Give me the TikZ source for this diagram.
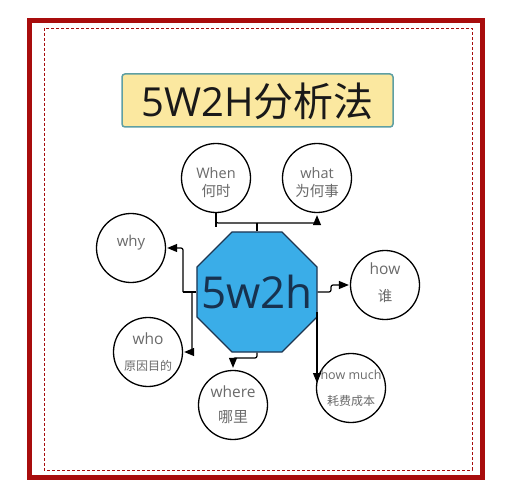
\documentclass[tikz,border=0pt]{standalone}
\usepackage{fontspec}
\setmainfont{Open Sans}
\newfontfamily\cjk{Noto Sans CJK SC}
\usetikzlibrary{shapes.geometric,arrows.meta,calc}
\definecolor{frame}{HTML}{A80D0D}
\definecolor{titlefill}{HTML}{FBE8A0}
\definecolor{titleline}{HTML}{5E9FA3}
\definecolor{octfill}{HTML}{3AADE8}
\definecolor{octline}{HTML}{1E3550}
\definecolor{octtext}{HTML}{17324F}
\definecolor{labelgray}{HTML}{6A6A6A}
\tikzset{
  bubble/.style={circle,draw=black,line width=1.3pt,fill=white,minimum size=69pt,inner sep=0pt},
  lab/.style={text=labelgray,inner sep=0pt,font=\fontsize{14.5}{14.5}\selectfont},
  conn/.style={draw=black,line width=1.2pt,rounded corners=2pt},
  arr/.style={conn,-{Triangle[length=10pt,width=8pt]}},
}
\begin{document}
\begin{tikzpicture}[x=1pt,y=-1pt]
\useasboundingbox (0,0) rectangle (512,500);
\fill[white] (0,0) rectangle (512,500);
% frames
\draw[frame,line width=5pt] (29.5,20.5) rectangle (482.5,477.5);
\draw[frame,line width=0.7pt,dash pattern=on 3pt off 2pt] (44,28) rectangle (472,470);
% title
\node[draw=titleline,fill=titlefill,line width=1.5pt,rounded corners=3pt,minimum width=271pt,minimum height=53pt,inner sep=0pt] (title) at (257.5,100.5) {};
\node[text=black!90,inner sep=0pt,font=\fontsize{40}{40}\selectfont] (titletext) at (257.5,101) {5W2H{\cjk 分析法}};
% center octagon
\node[regular polygon,regular polygon sides=8,draw=octline,fill=octfill,line width=1.2pt,minimum size=130pt,inner sep=0pt] (oct) at (257,292) {};
\node[text=octtext,inner sep=0pt,font=\fontsize{44}{44}\selectfont] (octtext) at (257,292) {5w2h};
% bubbles
\node[bubble] (wn) at (216,178) {};
\node[lab] at (216,173) {When};
\node[lab] at (216,191) {\cjk 何时};
\node[bubble] (wa) at (317,178) {};
\node[lab] at (317,173) {what};
\node[lab] at (317,191) {\cjk 为何事};
\node[bubble] (wy) at (131,248) {};
\node[lab,font=\fontsize{15}{15}\selectfont] at (131,243) {why};
\node[bubble] (wo) at (148,352) {};
\node[lab,font=\fontsize{15.5}{15.5}\selectfont] at (148,339) {who};
\node[lab,font=\fontsize{12}{12}\selectfont] at (148,366) {\cjk 原因目的};
\node[bubble] (wh) at (233,405) {};
\node[lab,font=\fontsize{15.5}{15.5}\selectfont] at (233,392) {where};
\node[lab,font=\fontsize{15}{15}\selectfont] at (233,417) {\cjk 哪里};
\node[bubble] (hm) at (351,388) {};
\node[lab,font=\fontsize{12.5}{12.5}\selectfont] at (351,375) {how much};
\node[lab,font=\fontsize{12}{12}\selectfont] at (351,401) {\cjk 耗费成本};
\node[bubble] (hw) at (385,285) {};
\node[lab,font=\fontsize{15.5}{15.5}\selectfont] at (385,269) {how};
\node[lab] at (385,296) {\cjk 谁};
% connectors
\coordinate (jt) at (257,223);
\coordinate (jl) at (183,292);
\coordinate (jo) at (192,292);
\coordinate (jb) at (257,358);
\coordinate (jr) at (331,292);
\coordinate (hs) at (317,312);
\draw[conn] (oct.north) -- (jt);
\draw[conn] (jt) -| (wn.south);
\draw[conn] (wn.south) -- ++(0,14);
\draw[arr,shorten >=2pt] (jt) -| (wa.south);
\draw[conn] (oct.west) -- (jl);
\draw[arr,shorten >=1pt] (jl) |- (wy.east);
\draw[arr,shorten >=1pt] (jo) |- (wo.east);
\draw[arr,shorten >=2pt] (oct.south) -- (jb) -| (wh.north);
\draw[arr,shorten >=1pt] (oct.east) -- (jr) |- (hw.west);
\draw[arr] (hs) -- ($(hm.west -| hs)+(0,-5)$);
\end{tikzpicture}
\end{document}
